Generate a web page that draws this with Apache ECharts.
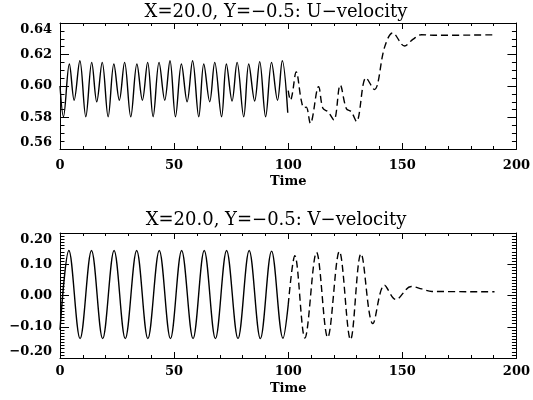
<!DOCTYPE html>
<html>
<head>
<meta charset="utf-8">
<script src="https://cdn.jsdelivr.net/npm/echarts@6/dist/echarts.min.js"></script>
<style>
html,body{margin:0;padding:0;background:#fff;}
#chart{width:533px;height:400px;}
</style>
</head>
<body>
<div id="chart"></div>
<script>
// ---- data ----
const titleU = "X=20.0, Y=\u22120.5: U\u2212velocity";
const titleV = "X=20.0, Y=\u22120.5: V\u2212velocity";
const xLabel = "Time";

// U-velocity, solid part (time, value) at extrema
const uSolid = [
  [0,0.600],[1.5,0.5805],[4.1,0.614],[6.2,0.591],[8.7,0.616],[11.3,0.5805],
  [13.9,0.615],[16.1,0.590],[18.5,0.615],[21.1,0.5805],[23.6,0.614],[26.0,0.591],
  [28.3,0.615],[31.0,0.5805],[33.7,0.614],[36.1,0.591],[38.4,0.615],[40.8,0.5805],
  [43.4,0.615],[45.9,0.591],[48.2,0.616],[50.6,0.5805],[53.2,0.614],[55.7,0.590],
  [58.1,0.616],[60.8,0.5805],[63.0,0.614],[65.6,0.590],[67.8,0.615],[70.8,0.5805],
  [72.9,0.614],[75.4,0.5905],[77.6,0.615],[80.5,0.5805],[82.7,0.614],[85.3,0.5905],
  [87.5,0.6155],[90.1,0.5805],[92.7,0.615],[95.3,0.591],[97.4,0.616],[99.8,0.583]
];
// U-velocity, dashed part
const uDashed = [
  [100,0.597],[101,0.591],[101.8,0.595],[103.5,0.609],[105.7,0.591],[106.9,0.5862],
  [107.9,0.5866],[109.7,0.5763],[113.3,0.5996],[115.2,0.5858],[117.4,0.5837],
  [120.0,0.5784],[122.8,0.6006],[125.5,0.5855],[127.6,0.5837],[129.9,0.5775],
  [134.1,0.6052],[137.7,0.5978],[142.3,0.625],[145.8,0.6337],[151.0,0.6254],
  [154.6,0.6296],[158.3,0.6325],[165,0.6322],[190.4,0.6325]
];
// V-velocity, solid part
const vSolid = [
  [0,-0.11],[3.9,0.144],[8.8,-0.138],[13.8,0.144],[18.7,-0.138],[23.7,0.144],
  [28.6,-0.138],[33.6,0.144],[38.5,-0.138],[43.5,0.144],[48.4,-0.138],[53.3,0.144],
  [58.3,-0.138],[63.2,0.144],[68.1,-0.138],[73.0,0.144],[78.0,-0.138],[82.9,0.144],
  [87.8,-0.138],[92.7,0.142],[97.7,-0.137],[100,-0.03]
];
// V-velocity, dashed part
const vDashed = [
  [100,-0.03],[102.9,0.127],[107.3,-0.136],[112.4,0.138],[117.3,-0.134],
  [122.4,0.141],[127.3,-0.141],[131.9,0.134],[137.1,-0.09],[142.2,0.033],
  [147.2,-0.013],[153.9,0.029],[158.5,0.021],[163,0.013],[190.4,0.012]
];

const xTicks = {min:0, max:200, interval:50};
const uTicks = {min:0.56, max:0.64, interval:0.02};
const vTicks = {min:-0.2, max:0.2, interval:0.1};

// ---- chart ----
const FONT = "DejaVu Serif";
const chart = echarts.init(document.getElementById('chart'), null, {renderer:'canvas'});

function fmt(v){
  const s = Math.abs(v) < 1e-9 ? "0.00" : v.toFixed(2);
  return s.replace('-', '\u2212');
}

function xAxis(grid, pos, showLabel) {
  return {
    type:'value', gridIndex:grid, position:pos,
    min:xTicks.min, max:xTicks.max, interval:xTicks.interval,
    axisLine:{show:true, onZero:false, lineStyle:{color:'#000', width:1}},
    axisTick:{show:true, inside:true, length:6, lineStyle:{color:'#000'}},
    minorTick:{show:true, splitNumber:5, length:3, lineStyle:{color:'#000'}},
    splitLine:{show:false},
    axisLabel:{show:showLabel, color:'#000', fontFamily:FONT, fontWeight:'bold', fontSize:13,
      margin: grid===0 ? 10 : 7},
    name: showLabel ? xLabel : '',
    nameLocation:'middle', nameGap: grid===0 ? 26 : 24,
    nameTextStyle:{color:'#000', fontFamily:FONT, fontWeight:'bold', fontSize:13}
  };
}
function yAxis(grid, pos, showLabel, t, minorSplit) {
  return {
    type:'value', gridIndex:grid, position:pos,
    min:t.min, max:t.max, interval:t.interval,
    axisLine:{show:true, onZero:false, lineStyle:{color:'#000', width:1}},
    axisTick:{show:true, inside:true, length:9, lineStyle:{color:'#000'}},
    minorTick:{show:true, splitNumber:minorSplit, length:4.5, lineStyle:{color:'#000'}},
    splitLine:{show:false},
    axisLabel:{show:showLabel, color:'#000', fontFamily:FONT, fontWeight:'bold', fontSize:13,
      margin:8, formatter:fmt, verticalAlignMinLabel:'bottom', verticalAlignMaxLabel:'top'}
  };
}

const solid = {color:'#000', width:1.4, type:'solid'};
const dashed = {color:'#000', width:1.4, type:[7,4]};

chart.setOption({
  animation:false,
  backgroundColor:'#fff',
  grid:[
    {left:60, top:23, width:457, height:126},
    {left:60, top:233, width:457, height:125}
  ],
  xAxis:[xAxis(0,'bottom',true), xAxis(0,'top',false), xAxis(1,'bottom',true), xAxis(1,'top',false)],
  yAxis:[yAxis(0,'left',true,uTicks,4), yAxis(0,'right',false,uTicks,4),
         yAxis(1,'left',true,vTicks,10), yAxis(1,'right',false,vTicks,10)],
  graphic:[
    {type:'text', x:276, y:12, style:{text:titleU, fill:'#000', font:'18px "DejaVu Serif"', align:'center', verticalAlign:'middle'}},
    {type:'text', x:276, y:220, style:{text:titleV, fill:'#000', font:'18px "DejaVu Serif"', align:'center', verticalAlign:'middle'}}
  ],
  series:[
    {type:'line', xAxisIndex:0, yAxisIndex:0, data:uSolid, smooth:0.36, showSymbol:false, lineStyle:solid},
    {type:'line', xAxisIndex:0, yAxisIndex:0, data:uDashed, smooth:0.36, showSymbol:false, lineStyle:dashed},
    {type:'line', xAxisIndex:2, yAxisIndex:2, data:vSolid, smooth:0.36, showSymbol:false, lineStyle:solid},
    {type:'line', xAxisIndex:2, yAxisIndex:2, data:vDashed, smooth:0.36, showSymbol:false, lineStyle:dashed}
  ]
});
</script>
</body>
</html>
